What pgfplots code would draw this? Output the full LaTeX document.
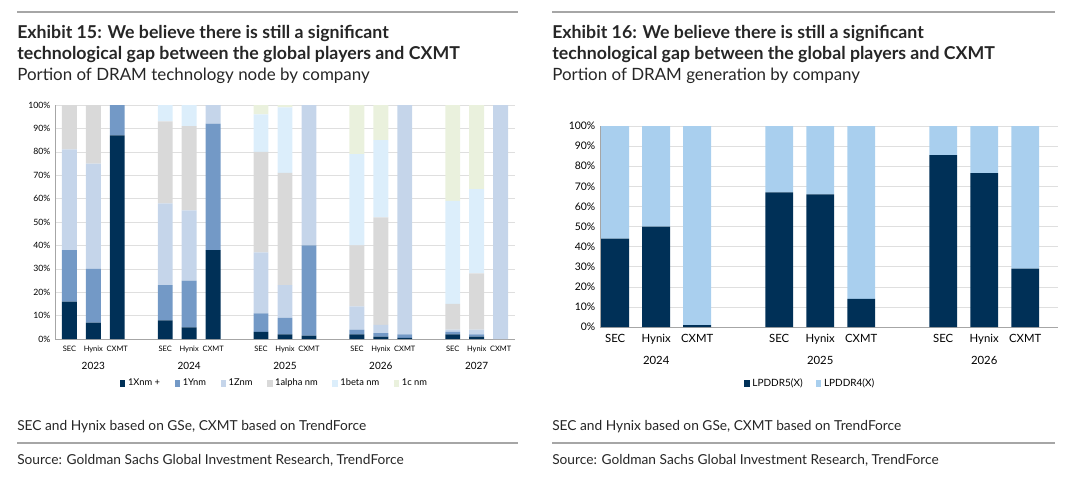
\documentclass[border=0pt]{standalone}
\usepackage{pgfplots}
\pgfplotsset{compat=1.18}
\usepackage{fontspec}
\setmainfont{Lato}
\definecolor{cA}{HTML}{003057}
\definecolor{cB}{HTML}{7399C6}
\definecolor{cC}{HTML}{C5D5EA}
\definecolor{cD}{HTML}{D9D9D9}
\definecolor{cE}{HTML}{DCEEFB}
\definecolor{cF}{HTML}{EAF1DD}
\definecolor{cG}{HTML}{A9CFEE}
\begin{document}
\begin{tikzpicture}
\path[use as bounding box] (0,0) rectangle (810pt,-372.75pt);
\begin{scope}[x=0.75pt,y=-0.75pt]
\draw[gray!70,line width=0.8pt] (17,12)--(518,12);
\draw[gray!70,line width=0.8pt] (552,12)--(1055,12);
\draw[gray!70,line width=0.8pt] (17,443)--(518,443);
\draw[gray!70,line width=0.8pt] (552,443)--(1055,443);
\foreach \xx/\n in {17/15,552/16}{
\node[anchor=base west,inner sep=0pt,font=\fontsize{13.3}{15}\selectfont\bfseries,text=black!85] at (\xx,38) {Exhibit \n: We believe there is still a significant};
\node[anchor=base west,inner sep=0pt,font=\fontsize{13.3}{15}\selectfont\bfseries,text=black!85] at (\xx,59) {technological gap between the global players and CXMT};
\node[anchor=base west,inner sep=0pt,font=\fontsize{12.7}{14}\selectfont,text=black!85] at (\xx,80) {Portion of DRAM \ifnum\n=15 technology node\else generation\fi\ by company};
\node[anchor=base west,inner sep=0pt,font=\fontsize{10.3}{12}\selectfont,text=black!85] at (\xx,430) {SEC and Hynix based on GSe, CXMT based on TrendForce};
\node[anchor=base west,inner sep=0pt,font=\fontsize{10.3}{12}\selectfont,text=black!85] at (\xx,464) {Source: Goldman Sachs Global Investment Research, TrendForce};
}
\end{scope}
\begin{axis}[at={(41.25pt,-254.25pt)},anchor=south west,scale only axis,width=345pt,height=175.5pt,
 ybar stacked,bar width=0.62,xmin=-0.6,xmax=18.6,ymin=0,ymax=100,
 xtick={0,1,2,4,5,6,8,9,10,12,13,14,16,17,18},
 xticklabels={SEC,Hynix,CXMT,SEC,Hynix,CXMT,SEC,Hynix,CXMT,SEC,Hynix,CXMT,SEC,Hynix,CXMT},
 ytick={0,10,...,100},yticklabel={\pgfmathprintnumber{\tick}\%},
 /pgf/number format/assume math mode=true,
 yticklabel style={font=\fontsize{6.5}{7}\selectfont},
 xticklabel style={font=\fontsize{5.6}{6}\selectfont,yshift=-2pt},
 ymajorgrids,grid style={gray!25},major tick length=0pt,
 axis x line*=bottom,axis y line*=left,axis line style={gray!70},
 draw=none,clip=false,
 legend style={at={(0.478,-0.19)},anchor=center,draw=none,font=\fontsize{7}{8}\selectfont,legend columns=6,
  /tikz/every even column/.append style={column sep=9pt}},
 legend image code/.code={\fill[#1] (0,-0.09cm) rectangle (0.14cm,0.09cm);}]
\addplot[fill=cA,draw=none] coordinates {(0,16)(1,7)(2,87)(4,8)(5,5)(6,38)(8,3)(9,2)(10,1.5)(12,2)(13,1)(14,0.5)(16,2)(17,1)(18,0)};
\addplot[fill=cB,draw=none] coordinates {(0,22)(1,23)(2,13)(4,15)(5,20)(6,54)(8,8)(9,7)(10,38.5)(12,2)(13,1.5)(14,1.5)(16,1)(17,1)(18,0)};
\addplot[fill=cC,draw=none] coordinates {(0,43)(1,45)(2,0)(4,35)(5,30)(6,8)(8,26)(9,14)(10,60)(12,10)(13,3.5)(14,98)(16,1)(17,2)(18,100)};
\addplot[fill=cD,draw=none] coordinates {(0,19)(1,25)(2,0)(4,35)(5,36)(6,0)(8,43)(9,48)(10,0)(12,26)(13,46)(14,0)(16,11)(17,24)(18,0)};
\addplot[fill=cE,draw=none] coordinates {(0,0)(1,0)(2,0)(4,7)(5,9)(6,0)(8,16)(9,28)(10,0)(12,39)(13,33)(14,0)(16,44)(17,36)(18,0)};
\addplot[fill=cF,draw=none] coordinates {(0,0)(1,0)(2,0)(4,0)(5,0)(6,0)(8,4)(9,1)(10,0)(12,21)(13,15)(14,0)(16,41)(17,36)(18,0)};
\legend{1Xnm +,1Ynm,1Znm,1alpha nm,1beta nm,1c nm}
\foreach \g/\yr in {1/2023,5/2024,9/2025,13/2026,17/2027}{
 \edef\tmp{\noexpand\node[font=\noexpand\fontsize{7.5}{8}\noexpand\selectfont] at (axis cs:\g,0) [yshift=-20pt] {\yr};}\tmp}
\end{axis}
\begin{axis}[at={(450pt,-245.25pt)},anchor=south west,scale only axis,width=343.5pt,height=150.75pt,
 ybar stacked,bar width=0.68,xmin=-0.37,xmax=10.8,ymin=0,ymax=100,
 xtick={0,1,2,4,5,6,8,9,10},
 xticklabels={SEC,Hynix,CXMT,SEC,Hynix,CXMT,SEC,Hynix,CXMT},
 ytick={0,10,...,100},yticklabel={\pgfmathprintnumber{\tick}\%},
 /pgf/number format/assume math mode=true,
 yticklabel style={font=\fontsize{7.8}{9}\selectfont},
 xticklabel style={font=\fontsize{8.5}{9}\selectfont,yshift=-2pt},
 ymajorgrids,grid style={gray!25},major tick length=0pt,
 axis x line*=bottom,axis y line*=left,axis line style={gray!70},
 draw=none,clip=false,
 legend style={at={(0.46,-0.28)},anchor=center,draw=none,font=\fontsize{7.5}{8}\selectfont,legend columns=2,
  /tikz/every even column/.append style={column sep=8pt}},
 legend image code/.code={\fill[#1] (0,-0.09cm) rectangle (0.14cm,0.09cm);}]
\addplot[fill=cA,draw=none] coordinates {(0,44)(1,50)(2,1)(4,67)(5,66)(6,14)(8,85.5)(9,76.5)(10,29)};
\addplot[fill=cG,draw=none] coordinates {(0,56)(1,50)(2,99)(4,33)(5,34)(6,86)(8,14.5)(9,23.5)(10,71)};
\legend{LPDDR5(X),LPDDR4(X)}
\foreach \g/\yr in {1/2024,5/2025,9/2026}{
 \edef\tmp{\noexpand\node[font=\noexpand\fontsize{8.5}{9}\noexpand\selectfont] at (axis cs:\g,0) [yshift=-25pt] {\yr};}\tmp}
\end{axis}
\end{tikzpicture}
\end{document}
